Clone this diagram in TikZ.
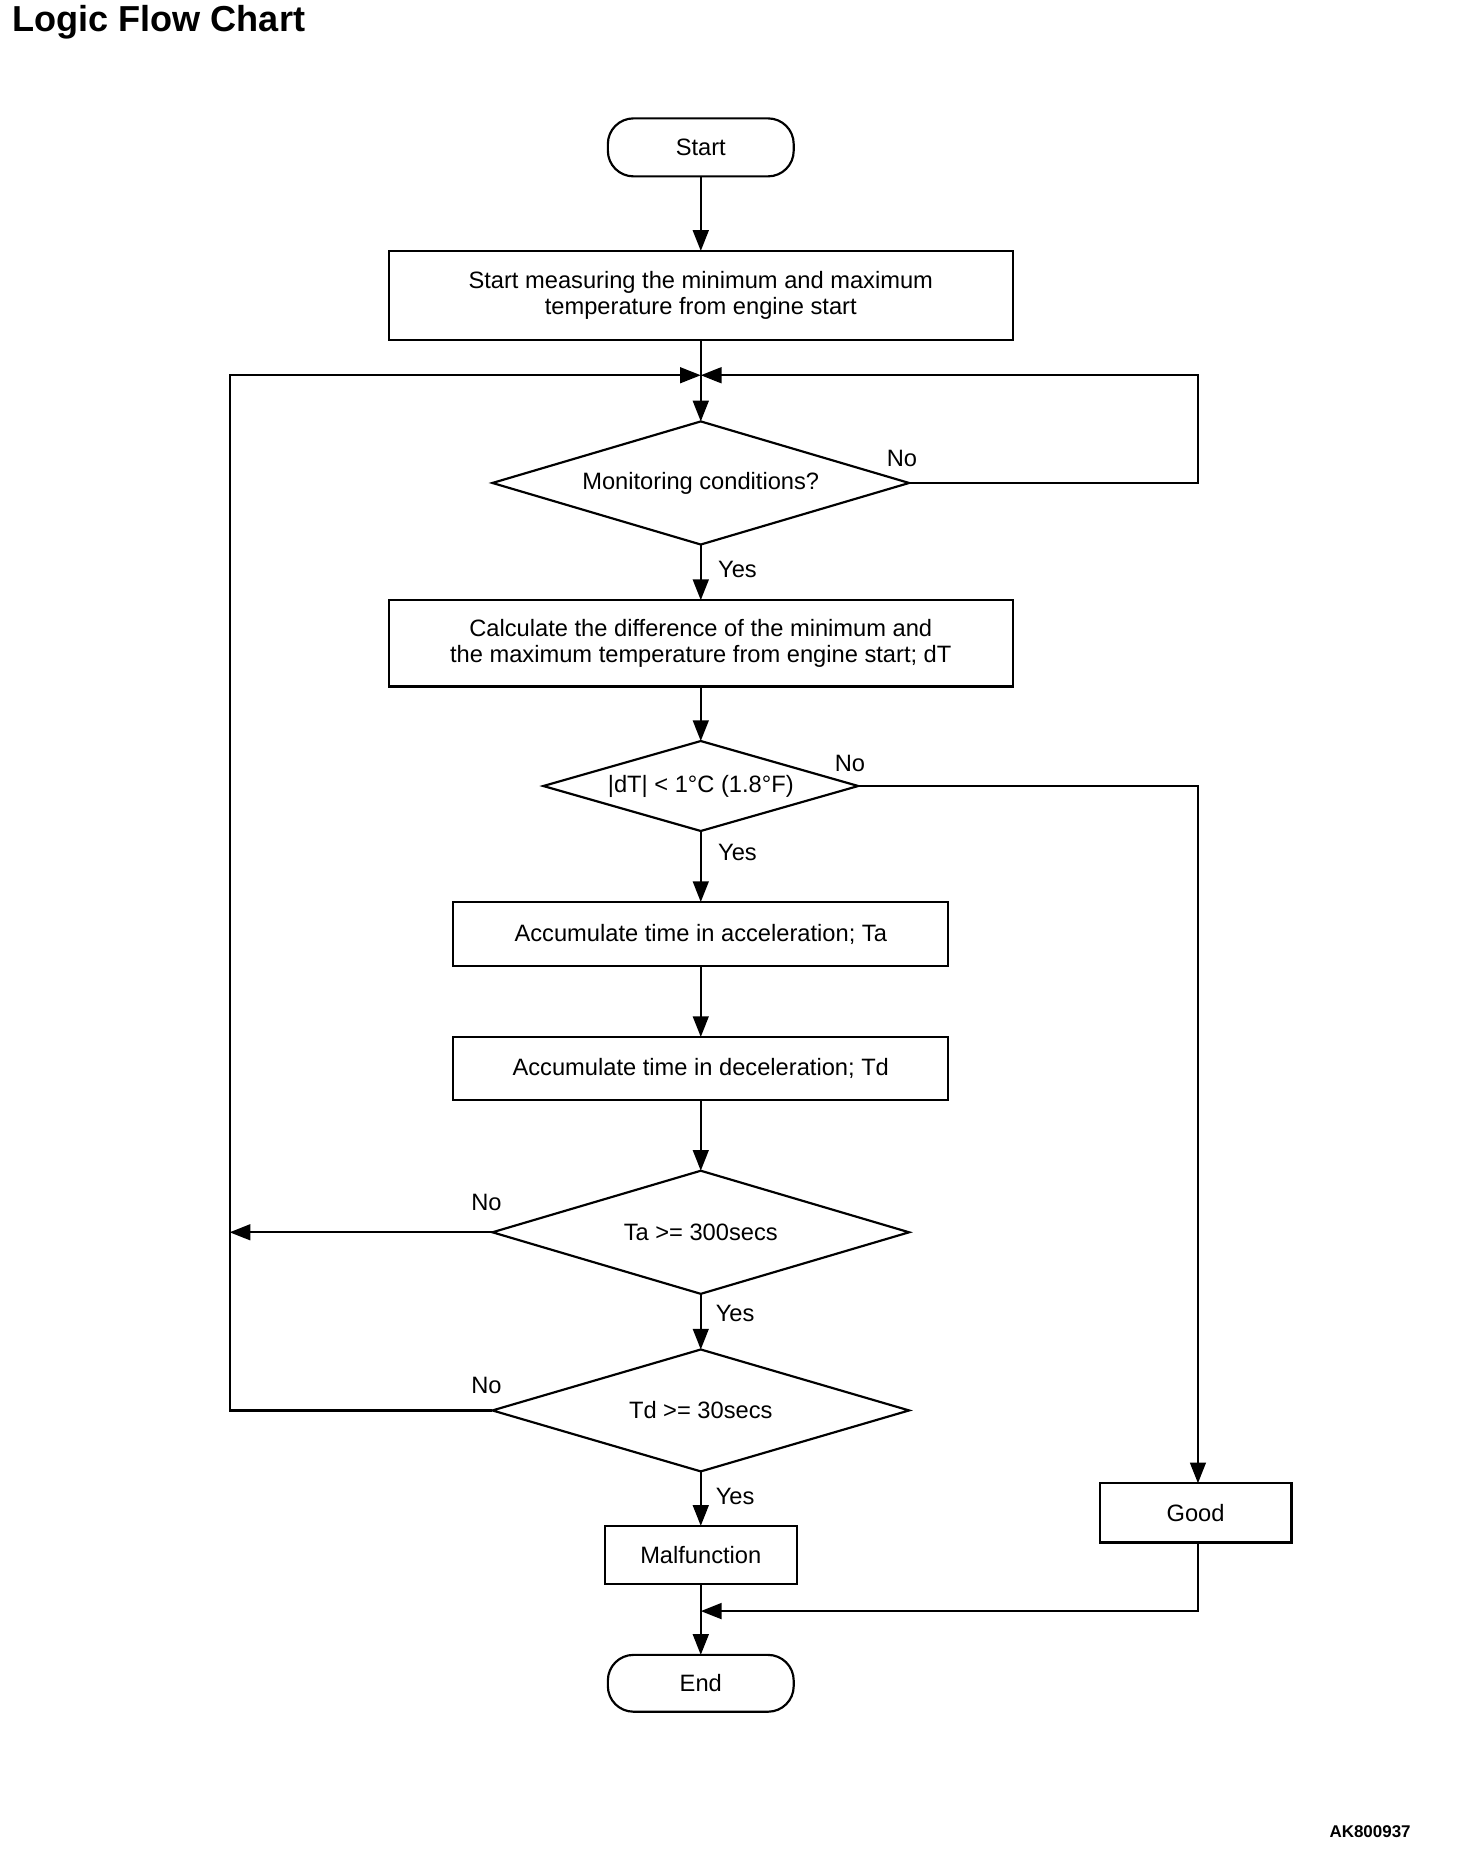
\documentclass[tikz,border=0pt]{standalone}
\usepackage{fontspec}
\setmainfont{Liberation Sans}
\usetikzlibrary{shapes.geometric,arrows.meta}
\tikzset{
  base/.style={font=\fontsize{12}{13}\selectfont, inner sep=0pt, outer sep=0pt},
  proc/.style={base, draw, line width=1.1pt, align=center},
  term/.style={proc, rounded corners=13pt},
  dec/.style={base, draw, line width=1.1pt, diamond, aspect=3.4},
  lbl/.style={base},
  conn/.style={line width=1.1pt},
  arr/.style={conn, -{Triangle[length=10.5pt,width=8pt]}},
}
\begin{document}
\begin{tikzpicture}[x=0.6pt,y=-0.6pt]
\useasboundingbox (0,0) rectangle (1230,1569.6);
\node[anchor=base west, inner sep=0pt, font=\bfseries\fontsize{18.3}{19}\selectfont] (title) at (10,27) {Logic Flow Chart};
\node[anchor=base east, inner sep=0pt, font=\bfseries\fontsize{8.6}{9}\selectfont] (code) at (1192,1552) {AK800937};

\node[term, minimum width=94.2pt, minimum height=29.4pt] (start) at (592,124.5) {Start};
\node[proc, minimum width=316.2pt, minimum height=45pt] (box1) at (592,249.5) {Start measuring the minimum and maximum\\temperature from engine start};
\node[dec, minimum width=211.2pt, minimum height=62.4pt] (d1) at (592,408) {Monitoring conditions?};
\node[proc, minimum width=316.2pt, minimum height=43.8pt] (box2) at (592,543.5) {Calculate the difference of the minimum and\\the maximum temperature from engine start; dT};
\node[dec, minimum width=159.6pt, minimum height=45.6pt] (d2) at (592,664) {|dT| < 1°C (1.8°F)};
\node[proc, minimum width=250.8pt, minimum height=32.4pt] (box3) at (592,789) {Accumulate time in acceleration; Ta};
\node[proc, minimum width=250.8pt, minimum height=31.8pt] (box4) at (592,902.5) {Accumulate time in deceleration; Td};
\node[dec, minimum width=211.2pt, minimum height=62.4pt] (d3) at (592,1041) {Ta >= 300secs};
\node[dec, minimum width=211.2pt, minimum height=61.8pt] (d4) at (592,1191.5) {Td >= 30secs};
\node[proc, minimum width=97.2pt, minimum height=29.4pt] (malf) at (592,1313.5) {Malfunction};
\node[proc, minimum width=97.2pt, minimum height=30pt] (good) at (1010,1278) {Good};
\node[term, minimum width=94.2pt, minimum height=28.8pt] (end) at (592,1422) {End};

\coordinate (j) at (592,317);
\coordinate (jl) at (194,317);
\coordinate (jr) at (1012,317);
\coordinate (gt) at (1012,1253);
\coordinate (gb) at (1012,1303);
\coordinate (mj) at (592,1361);

\node[lbl] (no1) at (762,387) {No};
\node[lbl] (yes1) at (623,481) {Yes};
\node[lbl] (no2) at (718,645) {No};
\node[lbl] (yes2) at (623,720) {Yes};
\node[lbl] (no3) at (411,1016) {No};
\node[lbl] (yes3) at (621,1110) {Yes};
\node[lbl] (no4) at (411,1170) {No};
\node[lbl] (yes4) at (621,1264) {Yes};

\draw[arr] (start) -- (box1);
\draw[arr] (box1) -- (d1);
\draw[arr] (d1.east) -| (jr) -- (j);
\draw[arr] (d1) -- (box2);
\draw[arr] (box2) -- (d2);
\draw[arr] (d2.east) -| (gt);
\draw[arr] (d2) -- (box3);
\draw[arr] (box3) -- (box4);
\draw[arr] (box4) -- (d3);
\draw[arr] (d3.west) -- (d3.west -| jl);
\draw[arr] (d3) -- (d4);
\draw[arr] (d4.west) -| (jl) -- (j);
\draw[arr] (d4) -- (malf);
\draw[arr] (malf) -- (end);
\draw[arr] (gb) |- (mj);
\end{tikzpicture}
\end{document}
